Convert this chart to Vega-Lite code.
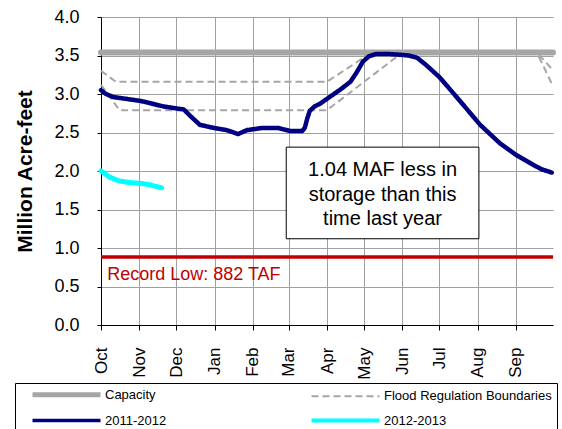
{
  "$schema": "https://vega.github.io/schema/vega-lite/v6.json",
  "width": 452,
  "height": 308,
  "autosize": "none",
  "padding": {"left": 101, "top": 17, "right": 9, "bottom": 104},
  "background": "white",
  "config": {"view": {"stroke": null}, "font": "Liberation Sans"},
  "datasets": {
    "series": [
      {"series": "Capacity", "part": "c", "date": "2011-10-01", "value": 3.538},
      {"series": "Capacity", "part": "c", "date": "2012-10-01", "value": 3.538},
      {"series": "Flood Regulation Boundaries", "part": "upper", "date": "2011-10-01", "value": 3.30},
      {"series": "Flood Regulation Boundaries", "part": "upper", "date": "2011-10-13", "value": 3.16},
      {"series": "Flood Regulation Boundaries", "part": "upper", "date": "2012-04-01", "value": 3.16},
      {"series": "Flood Regulation Boundaries", "part": "upper", "date": "2012-05-07", "value": 3.538},
      {"series": "Flood Regulation Boundaries", "part": "upper", "date": "2012-09-18", "value": 3.538},
      {"series": "Flood Regulation Boundaries", "part": "upper", "date": "2012-10-01", "value": 3.31},
      {"series": "Flood Regulation Boundaries", "part": "lower", "date": "2011-10-01", "value": 3.12},
      {"series": "Flood Regulation Boundaries", "part": "lower", "date": "2011-10-16", "value": 2.79},
      {"series": "Flood Regulation Boundaries", "part": "lower", "date": "2012-04-01", "value": 2.79},
      {"series": "Flood Regulation Boundaries", "part": "lower", "date": "2012-06-01", "value": 3.538},
      {"series": "Flood Regulation Boundaries", "part": "lower", "date": "2012-09-18", "value": 3.538},
      {"series": "Flood Regulation Boundaries", "part": "lower", "date": "2012-10-01", "value": 3.10},
      {"series": "2011-2012", "part": "a", "date": "2011-10-01", "value": 3.05},
      {"series": "2011-2012", "part": "a", "date": "2011-10-05", "value": 3.00},
      {"series": "2011-2012", "part": "a", "date": "2011-10-11", "value": 2.96},
      {"series": "2011-2012", "part": "a", "date": "2011-10-20", "value": 2.94},
      {"series": "2011-2012", "part": "a", "date": "2011-11-02", "value": 2.91},
      {"series": "2011-2012", "part": "a", "date": "2011-11-10", "value": 2.88},
      {"series": "2011-2012", "part": "a", "date": "2011-11-20", "value": 2.84},
      {"series": "2011-2012", "part": "a", "date": "2011-12-02", "value": 2.81},
      {"series": "2011-2012", "part": "a", "date": "2011-12-07", "value": 2.80},
      {"series": "2011-2012", "part": "a", "date": "2011-12-12", "value": 2.72},
      {"series": "2011-2012", "part": "a", "date": "2011-12-20", "value": 2.60},
      {"series": "2011-2012", "part": "a", "date": "2011-12-31", "value": 2.56},
      {"series": "2011-2012", "part": "a", "date": "2012-01-11", "value": 2.53},
      {"series": "2011-2012", "part": "a", "date": "2012-01-20", "value": 2.48},
      {"series": "2011-2012", "part": "a", "date": "2012-01-27", "value": 2.53},
      {"series": "2011-2012", "part": "a", "date": "2012-02-09", "value": 2.56},
      {"series": "2011-2012", "part": "a", "date": "2012-02-21", "value": 2.56},
      {"series": "2011-2012", "part": "a", "date": "2012-03-02", "value": 2.52},
      {"series": "2011-2012", "part": "a", "date": "2012-03-12", "value": 2.52},
      {"series": "2011-2012", "part": "a", "date": "2012-03-14", "value": 2.56},
      {"series": "2011-2012", "part": "a", "date": "2012-03-16", "value": 2.68},
      {"series": "2011-2012", "part": "a", "date": "2012-03-18", "value": 2.78},
      {"series": "2011-2012", "part": "a", "date": "2012-03-22", "value": 2.84},
      {"series": "2011-2012", "part": "a", "date": "2012-03-26", "value": 2.87},
      {"series": "2011-2012", "part": "a", "date": "2012-04-03", "value": 2.96},
      {"series": "2011-2012", "part": "a", "date": "2012-04-12", "value": 3.06},
      {"series": "2011-2012", "part": "a", "date": "2012-04-20", "value": 3.16},
      {"series": "2011-2012", "part": "a", "date": "2012-04-25", "value": 3.28},
      {"series": "2011-2012", "part": "a", "date": "2012-04-30", "value": 3.42},
      {"series": "2011-2012", "part": "a", "date": "2012-05-05", "value": 3.49},
      {"series": "2011-2012", "part": "a", "date": "2012-05-11", "value": 3.52},
      {"series": "2011-2012", "part": "a", "date": "2012-05-20", "value": 3.52},
      {"series": "2011-2012", "part": "a", "date": "2012-05-30", "value": 3.51},
      {"series": "2011-2012", "part": "a", "date": "2012-06-06", "value": 3.50},
      {"series": "2011-2012", "part": "a", "date": "2012-06-13", "value": 3.47},
      {"series": "2011-2012", "part": "a", "date": "2012-06-20", "value": 3.38},
      {"series": "2011-2012", "part": "a", "date": "2012-07-01", "value": 3.22},
      {"series": "2011-2012", "part": "a", "date": "2012-07-15", "value": 2.96},
      {"series": "2011-2012", "part": "a", "date": "2012-08-03", "value": 2.60},
      {"series": "2011-2012", "part": "a", "date": "2012-08-19", "value": 2.36},
      {"series": "2011-2012", "part": "a", "date": "2012-09-01", "value": 2.21},
      {"series": "2011-2012", "part": "a", "date": "2012-09-15", "value": 2.08},
      {"series": "2011-2012", "part": "a", "date": "2012-09-22", "value": 2.02},
      {"series": "2011-2012", "part": "a", "date": "2012-09-30", "value": 1.98},
      {"series": "2012-2013", "part": "b", "date": "2011-10-01", "value": 2.00},
      {"series": "2012-2013", "part": "b", "date": "2011-10-08", "value": 1.92},
      {"series": "2012-2013", "part": "b", "date": "2011-10-16", "value": 1.87},
      {"series": "2012-2013", "part": "b", "date": "2011-10-24", "value": 1.85},
      {"series": "2012-2013", "part": "b", "date": "2011-11-02", "value": 1.84},
      {"series": "2012-2013", "part": "b", "date": "2011-11-10", "value": 1.82},
      {"series": "2012-2013", "part": "b", "date": "2011-11-19", "value": 1.78}
    ]
  },
  "encoding": {
    "x": {
      "field": "date", "type": "temporal",
      "scale": {"type": "utc", "domain": [{"year": 2011, "month": 10, "date": 1, "utc": true}, {"year": 2012, "month": 10, "date": 1, "utc": true}]},
      "axis": {
        "values": [
          {"year": 2011, "month": 10, "date": 1, "utc": true},
          {"year": 2011, "month": 11, "date": 1, "utc": true},
          {"year": 2011, "month": 12, "date": 1, "utc": true},
          {"year": 2012, "month": 1, "date": 1, "utc": true},
          {"year": 2012, "month": 2, "date": 1, "utc": true},
          {"year": 2012, "month": 3, "date": 1, "utc": true},
          {"year": 2012, "month": 4, "date": 1, "utc": true},
          {"year": 2012, "month": 5, "date": 1, "utc": true},
          {"year": 2012, "month": 6, "date": 1, "utc": true},
          {"year": 2012, "month": 7, "date": 1, "utc": true},
          {"year": 2012, "month": 8, "date": 1, "utc": true},
          {"year": 2012, "month": 9, "date": 1, "utc": true}
        ],
        "labelExpr": "utcFormat(datum.value, '%b')",
        "labelAngle": -90, "labelFontSize": 17, "labelFont": "Liberation Sans", "labelColor": "black",
        "labelPadding": 17, "tickSize": 5, "tickColor": "black", "domainColor": "black",
        "grid": true, "gridColor": "#a0a0a0", "title": null, "labelFlush": false, "labelOverlap": false, "labelBound": false
      }
    },
    "y": {
      "field": "value", "type": "quantitative",
      "scale": {"domain": [0, 4]},
      "axis": {
        "values": [0, 0.5, 1, 1.5, 2, 2.5, 3, 3.5, 4],
        "format": ".1f", "labelFontSize": 18, "labelFont": "Liberation Sans", "labelColor": "black",
        "labelPadding": 18, "tickSize": 4, "tickColor": "black", "domainColor": "black",
        "grid": true, "gridColor": "#a0a0a0",
        "title": "Million Acre-feet", "titleFontSize": 21, "titleFontWeight": "bold", "titleFont": "Liberation Sans",
        "titleColor": "black", "titleX": -76, "titleY": 154, "titleAngle": -90, "titleBaseline": "middle", "titleAlign": "center"
      }
    }
  },
  "layer": [
    {
      "data": {"values": [{"date": "2011-10-01", "value": 0.882}, {"date": "2012-10-01", "value": 0.882}]},
      "mark": {"type": "line", "color": "#c00000", "strokeWidth": 3.5}
    },
    {
      "data": {"values": [{"label": "Record Low: 882 TAF", "date": "2011-10-06", "value": 0.584}]},
      "mark": {"type": "text", "align": "left", "baseline": "alphabetic", "fontSize": 18, "color": "#c00000", "font": "Liberation Sans"},
      "encoding": {"text": {"field": "label"}}
    },
    {
      "data": {"values": [{"date": "2012-02-28", "date2": "2012-08-02", "value": 2.31, "value2": 1.12}]},
      "mark": {"type": "rect", "fill": "white", "stroke": "black", "strokeWidth": 1},
      "encoding": {"x2": {"field": "date2"}, "y2": {"field": "value2"}}
    },
    {
      "data": {"values": [{"label": "1.04 MAF less in\nstorage than this\ntime last year", "date": "2012-05-16", "value": 2.01}]},
      "mark": {"type": "text", "align": "center", "baseline": "middle", "fontSize": 20, "lineHeight": 24.5, "lineBreak": "\n", "color": "black", "font": "Liberation Sans"},
      "encoding": {"text": {"field": "label"}}
    },
    {
      "data": {"name": "series"},
      "encoding": {
        "color": {
          "field": "series", "type": "nominal",
          "scale": {"domain": ["Capacity", "Flood Regulation Boundaries", "2011-2012", "2012-2013"], "range": ["#a6a6a6", "#a6a6a6", "#000080", "#00ffff"]},
          "legend": {
            "title": null, "orient": "none", "legendX": -86, "legendY": 366, "columns": 2, "direction": "horizontal",
            "symbolType": "M-6.8,0H6.8", "symbolSize": 100, "labelFont": "Liberation Sans", "labelFontSize": 13,
            "labelColor": "black", "labelOffset": 32, "symbolOffset": 40, "columnPadding": 132, "rowPadding": 7,
            "padding": 5, "strokeColor": "black", "fillColor": "white", "labelLimit": 300,
            "encode": {"symbols": {"update": {"strokeWidth": {"signal": "datum.value === 'Capacity' ? 5 : datum.value === 'Flood Regulation Boundaries' ? 2 : datum.value === '2011-2012' ? 3.5 : 4"}}}}
          }
        },
        "strokeDash": {
          "field": "series", "type": "nominal",
          "scale": {"domain": ["Capacity", "Flood Regulation Boundaries", "2011-2012", "2012-2013"], "range": [[1, 0], [7, 4], [1, 0], [1, 0]]}
        },
        "detail": {"field": "part"}
      },
      "layer": [
        {"transform": [{"filter": "datum.series === 'Flood Regulation Boundaries'"}], "mark": {"type": "line", "strokeWidth": 2, "strokeCap": "butt"}},
        {"transform": [{"filter": "datum.series === 'Capacity'"}], "mark": {"type": "line", "strokeWidth": 6, "strokeCap": "round"}},
        {"transform": [{"filter": "datum.series === '2011-2012'"}], "mark": {"type": "line", "strokeWidth": 4.5, "strokeCap": "round", "strokeJoin": "round"}},
        {"transform": [{"filter": "datum.series === '2012-2013'"}], "mark": {"type": "line", "strokeWidth": 5, "strokeCap": "round", "strokeJoin": "round"}}
      ]
    }
  ]
}
